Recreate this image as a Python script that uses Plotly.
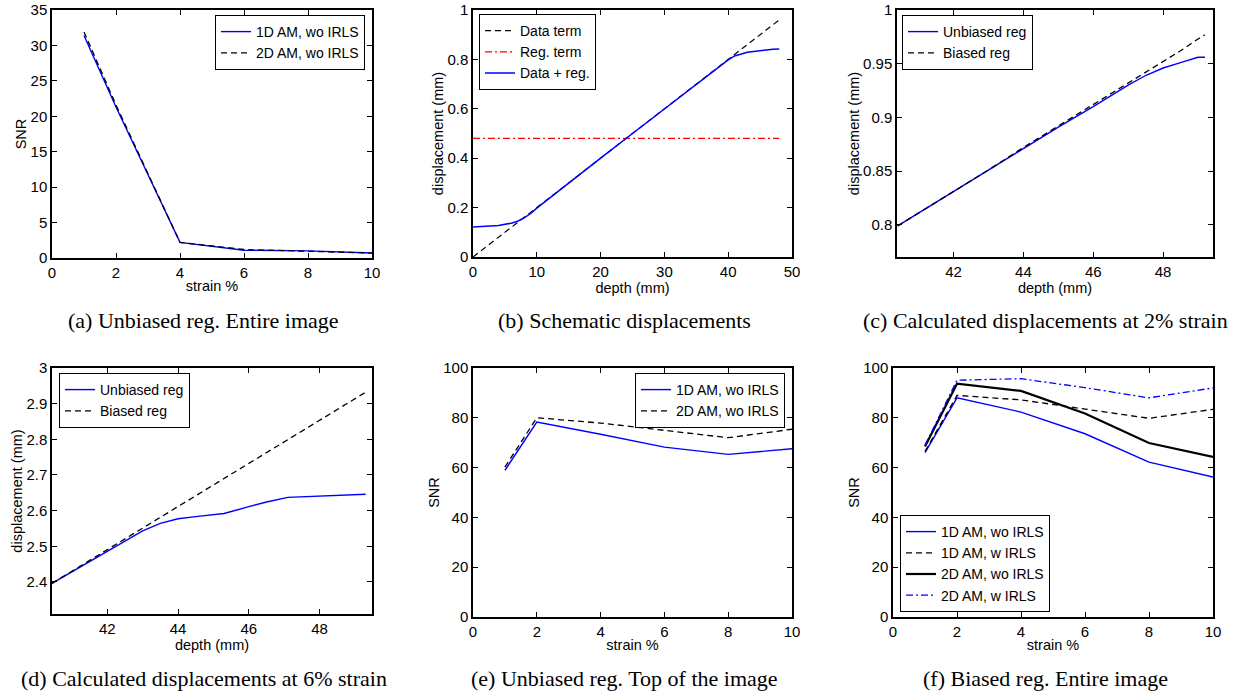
import plotly.graph_objects as go

# ---- (a) unbiased regularization, entire image ----
strain_a = [1, 2, 4, 6, 8, 10]
snr_a_1d_wo = [31.4, 21.3, 2.2, 1.1, 1.0, 0.7]
snr_a_2d_wo = [31.9, 21.6, 2.2, 1.2, 0.95, 0.7]

# ---- (b) schematic displacements ----
depth_b_data = [0, 48]
disp_b_data = [0, 0.96]
depth_b_reg = [0, 48]
disp_b_reg = [0.48, 0.48]
depth_b_sum = [0, 2, 4, 6, 7, 8, 9, 10, 15, 20, 25, 30, 35, 38, 40,
               41, 42, 43, 44, 45, 46, 47, 48]
disp_b_sum = [0.121, 0.123, 0.128, 0.137, 0.145, 0.158, 0.175, 0.198, 0.30,
              0.40, 0.50, 0.60, 0.70, 0.76, 0.798, 0.814, 0.823, 0.829,
              0.832, 0.836, 0.839, 0.841, 0.842]

# ---- (c) calculated displacements at 2% strain ----
depth_c = [40.4, 41, 42, 43, 44, 45, 46, 46.5, 47, 47.5, 48, 48.5, 49, 49.2]
disp_c_unbiased = [0.799, 0.811, 0.831, 0.851, 0.871, 0.891, 0.910, 0.920,
                   0.930, 0.939, 0.946, 0.951, 0.956, 0.956]
disp_c_biased = [0.799, 0.811, 0.831, 0.851, 0.872, 0.892, 0.912, 0.922,
                 0.932, 0.942, 0.952, 0.962, 0.973, 0.977]

# ---- (d) calculated displacements at 6% strain ----
depth_d = [40.44, 41, 42, 42.5, 43, 43.5, 44, 44.5, 45.3, 46, 46.5, 47.1, 48, 49.3]
disp_d_unbiased = [2.396, 2.428, 2.487, 2.515, 2.543, 2.564, 2.577, 2.583,
                   2.592, 2.611, 2.624, 2.637, 2.641, 2.646]
disp_d_biased = [2.396, 2.430, 2.490, 2.521, 2.551, 2.581, 2.611, 2.642,
                 2.690, 2.732, 2.763, 2.799, 2.853, 2.932]

# ---- (e) unbiased regularization, top of the image ----
strain_e = [1, 2, 4, 6, 8, 10]
snr_e_1d_wo = [58.9, 78.3, 73.4, 68.2, 65.3, 67.6]
snr_e_2d_wo = [60.2, 80.0, 77.9, 75.0, 72.0, 75.4]

# ---- (f) biased regularization, entire image ----
strain_f = [1, 2, 4, 6, 8, 10]
snr_f_1d_wo = [66.0, 88.0, 82.3, 73.6, 62.2, 56.2]
snr_f_1d_w = [66.5, 89.0, 87.2, 83.5, 79.8, 83.4]
snr_f_2d_wo = [68.5, 93.7, 90.8, 81.7, 69.9, 64.3]
snr_f_2d_w = [69.0, 95.1, 95.7, 92.1, 88.0, 92.0]

captions = [
    "(a) Unbiased reg. Entire image",
    "(b) Schematic displacements",
    "(c) Calculated displacements at 2% strain",
    "(d) Calculated displacements at 6% strain",
    "(e) Unbiased reg. Top of the image",
    "(f) Biased reg. Entire image",
]

W, H = 1239, 692
SANS = "Liberation Sans, Arial, sans-serif"
SERIF = "Liberation Serif, Times New Roman, serif"
BLUE = "#0000ff"
DASH = "6px,4px"
DASHDOT = "7px,3px,2px,3px"


def px_x(a, b):
    return [a / W, b / W]


def px_y(top, bottom):
    return [1 - bottom / H, 1 - top / H]


fig = go.Figure()


def line(x, y, name, color, dash, width, ax, legend):
    fig.add_trace(go.Scatter(
        x=x, y=y, name=name, mode="lines",
        line=dict(color=color, dash=dash, width=width),
        xaxis="x" + ax, yaxis="y" + ax, legend=legend,
    ))


# panel (a)
line(strain_a, snr_a_1d_wo, "1D AM, wo IRLS", BLUE, "solid", 1.4, "", "legend")
line(strain_a, snr_a_2d_wo, "2D AM, wo IRLS", "black", DASH, 1.3, "", "legend")
# panel (b)
line(depth_b_data, disp_b_data, "Data term", "black", DASH, 1.2, "2", "legend2")
line(depth_b_reg, disp_b_reg, "Reg. term", "#ff0000", DASHDOT, 1.3, "2", "legend2")
line(depth_b_sum, disp_b_sum, "Data + reg.", BLUE, "solid", 1.5, "2", "legend2")
# panel (c)
line(depth_c, disp_c_unbiased, "Unbiased reg", BLUE, "solid", 1.4, "3", "legend3")
line(depth_c, disp_c_biased, "Biased reg", "black", DASH, 1.3, "3", "legend3")
# panel (d)
line(depth_d, disp_d_unbiased, "Unbiased reg", BLUE, "solid", 1.4, "4", "legend4")
line(depth_d, disp_d_biased, "Biased reg", "black", DASH, 1.3, "4", "legend4")
# panel (e)
line(strain_e, snr_e_1d_wo, "1D AM, wo IRLS", BLUE, "solid", 1.4, "5", "legend5")
line(strain_e, snr_e_2d_wo, "2D AM, wo IRLS", "black", DASH, 1.3, "5", "legend5")
# panel (f)
line(strain_f, snr_f_1d_wo, "1D AM, wo IRLS", BLUE, "solid", 1.4, "6", "legend6")
line(strain_f, snr_f_1d_w, "1D AM, w IRLS", "black", DASH, 1.3, "6", "legend6")
line(strain_f, snr_f_2d_wo, "2D AM, wo IRLS", "black", "solid", 2.2, "6", "legend6")
line(strain_f, snr_f_2d_w, "2D AM, w IRLS", BLUE, DASHDOT, 1.3, "6", "legend6")


def axis_style(domain, rng, tickvals, title, anchor, standoff):
    return dict(
        domain=domain, range=rng, tickvals=tickvals, anchor=anchor,
        showline=True, linecolor="black", linewidth=1.5, mirror="ticks",
        ticks="inside", ticklen=5, tickwidth=1, tickcolor="black",
        showgrid=False, zeroline=False, automargin=False,
        tickfont=dict(family=SANS, size=15, color="black"),
        title=dict(text=title, font=dict(family=SANS, size=14.5, color="black"),
                   standoff=standoff),
    )


# panel frames in pixels: (left, right, top, bottom)
frames = [
    (52, 372, 10, 258),
    (473, 792, 10, 257),
    (897, 1213, 10, 257),
    (52, 372, 368, 614),
    (473, 792, 368, 617),
    (893, 1213, 368, 617),
]
xranges = [[0, 10], [0, 50], [40.38, 49.43], [40.44, 49.48], [0, 10], [0, 10]]
yranges = [[0, 35], [0, 1], [0.77, 1.0], [2.31, 3.0], [0, 100], [0, 100]]
xticks = [[0, 2, 4, 6, 8, 10], [0, 10, 20, 30, 40, 50], [42, 44, 46, 48],
          [42, 44, 46, 48], [0, 2, 4, 6, 8, 10], [0, 2, 4, 6, 8, 10]]
yticks = [[0, 5, 10, 15, 20, 25, 30, 35], [0, 0.2, 0.4, 0.6, 0.8, 1],
          [0.8, 0.85, 0.9, 0.95, 1.0], [2.4, 2.5, 2.6, 2.7, 2.8, 2.9, 3.0],
          [0, 20, 40, 60, 80, 100], [0, 20, 40, 60, 80, 100]]
xtitles = ["strain %", "depth (mm)", "depth (mm)", "depth (mm)", "strain %", "strain %"]
ytitles = ["SNR", "displacement (mm)", "displacement (mm)", "displacement (mm)", "SNR", "SNR"]

layout = {}
for i in range(6):
    l, r, t, b = frames[i]
    sfx = "" if i == 0 else str(i + 1)
    layout["xaxis" + sfx] = axis_style(px_x(l, r), xranges[i], xticks[i],
                                       xtitles[i], "y" + sfx, 1)
    layout["yaxis" + sfx] = axis_style(px_y(t, b), yranges[i], yticks[i],
                                       ytitles[i], "x" + sfx, 0)


def legend_box(x, y, xanchor, yanchor):
    return dict(
        x=x / W, y=1 - y / H, xanchor=xanchor, yanchor=yanchor,
        xref="paper", yref="paper",
        bgcolor="white", bordercolor="black", borderwidth=1,
        font=dict(family=SANS, size=14, color="black"),
        itemwidth=30, tracegroupgap=0,
    )


layout["legend"] = legend_box(365, 15, "right", "top")
layout["legend2"] = legend_box(479, 14, "left", "top")
layout["legend3"] = legend_box(902, 15, "left", "top")
layout["legend4"] = legend_box(59, 373, "left", "top")
layout["legend5"] = legend_box(785, 373, "right", "top")
layout["legend6"] = legend_box(900, 612, "left", "bottom")

# sub-figure captions
caption_pos = [(203, 320), (624, 320), (1045, 320), (204, 678), (624, 678), (1045, 678)]
annotations = []
for text, (cx, cy) in zip(captions, caption_pos):
    annotations.append(dict(
        text=text, x=cx / W, y=1 - cy / H, xref="paper", yref="paper",
        xanchor="center", yanchor="middle", showarrow=False,
        font=dict(family=SERIF, size=22, color="black"),
    ))

fig.update_layout(
    width=W, height=H, margin=dict(l=0, r=0, t=0, b=0),
    paper_bgcolor="white", plot_bgcolor="white",
    showlegend=True, annotations=annotations, **layout,
)

fig.write_html("out.html")
